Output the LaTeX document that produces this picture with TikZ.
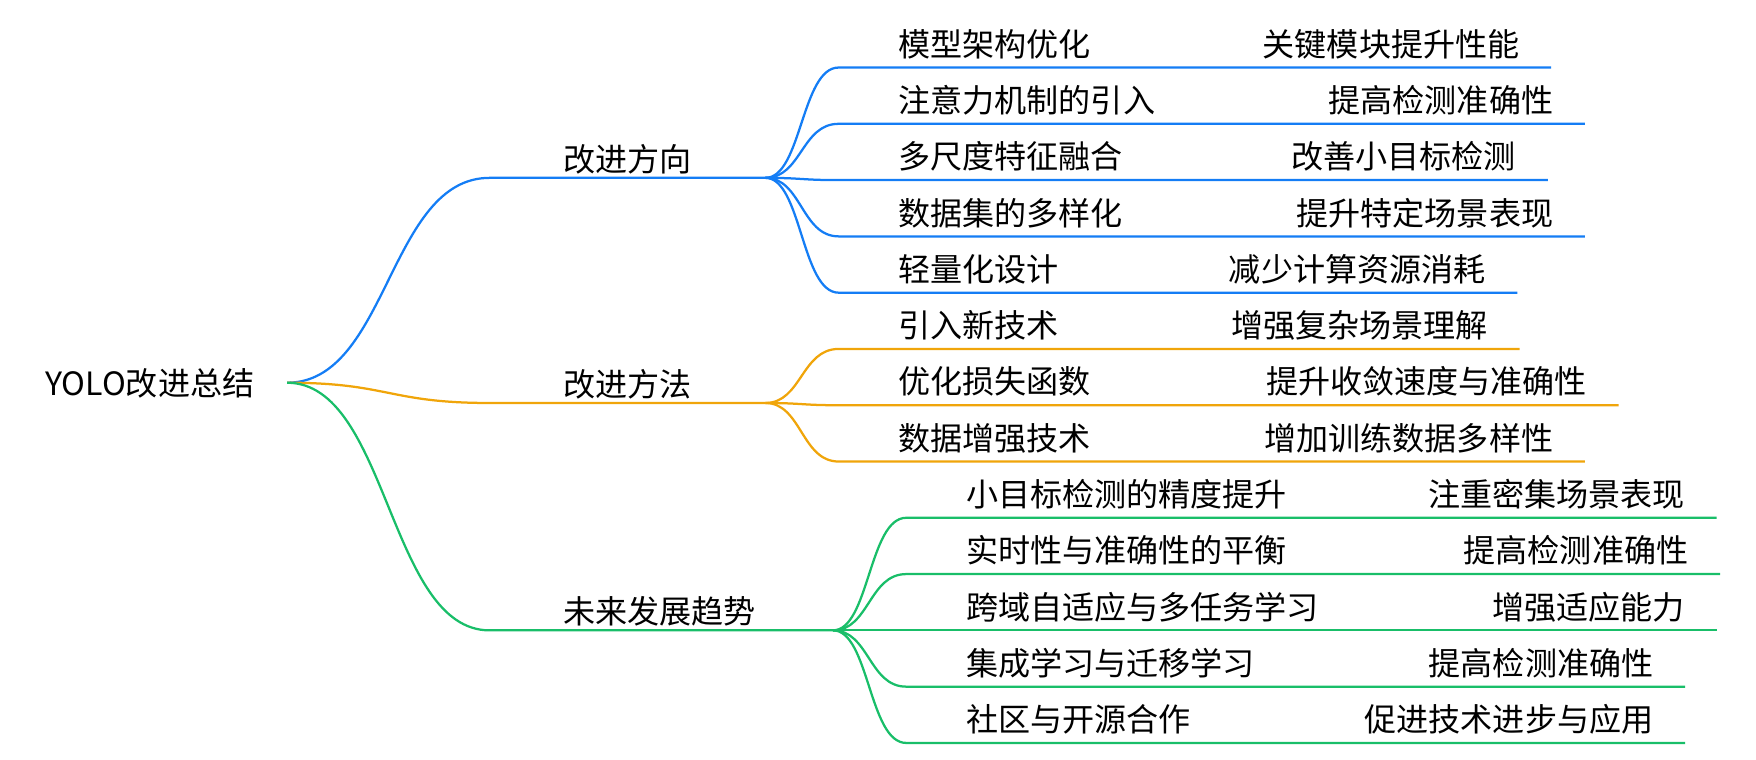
\documentclass[tikz,border=0pt]{standalone}
\usepackage{fontspec}
\setmainfont{Noto Sans CJK SC}
\usetikzlibrary{positioning}
\definecolor{dirblue}{RGB}{20,125,245}
\definecolor{methorange}{RGB}{240,165,10}
\definecolor{trendgreen}{RGB}{25,190,105}
\tikzset{
  branch/.style={line width=2pt},
  label/.style={font=\fontsize{28.5}{32}\selectfont, anchor=base west, inner sep=0pt},
  leaf/.style={font=\fontsize{28.5}{32}\selectfont, anchor=base east, inner sep=0pt}
}
\begin{document}
\begin{tikzpicture}[x=1pt,y=-1pt]
\useasboundingbox (0,0) rectangle (1560,675);

% root
\node [label] (root) at (40,351) {YOLO改进总结};
\coordinate (r) at (255,340);

% main branches
\coordinate (b1) at (435,158); \coordinate (b1e) at (680,158);
\coordinate (b2) at (435,358); \coordinate (b2e) at (680,358);
\coordinate (b3) at (435,560); \coordinate (b3e) at (740,560);
\draw [branch, dirblue] (r) .. controls (345,340) and (345,158) .. (b1) -- (b1e);
\draw [branch, methorange] (r) .. controls (345,340) and (345,358) .. (b2) -- (b2e);
\draw [branch, trendgreen] (r) .. controls (345,340) and (345,560) .. (b3) -- (b3e);
\node [label] (dir) at (500,152) {改进方向};
\node [label] (meth) at (500,352) {改进方法};
\node [label] (trend) at (500,554) {未来发展趋势};

% 改进方向
\foreach \y/\a/\b/\e in {60/模型架构优化/关键模块提升性能/1378,
                         110/注意力机制的引入/提高检测准确性/1408,
                         160/多尺度特征融合/改善小目标检测/1375,
                         210/数据集的多样化/提升特定场景表现/1408,
                         260/轻量化设计/减少计算资源消耗/1348} {
  \draw [branch, dirblue] (b1e) .. controls (712,158) and (712,\y) .. (745,\y) -- (\e,\y);
  \node [label] at (798,\y-10) {\a};
  \node [leaf] at (\e-28,\y-10) {\b};
}

% 改进方法
\foreach \y/\a/\b/\e in {310/引入新技术/增强复杂场景理解/1350,
                         360/优化损失函数/提升收敛速度与准确性/1438,
                         410/数据增强技术/增加训练数据多样性/1408} {
  \draw [branch, methorange] (b2e) .. controls (712,358) and (712,\y) .. (745,\y) -- (\e,\y);
  \node [label] at (798,\y-10) {\a};
  \node [leaf] at (\e-28,\y-10) {\b};
}

% 未来发展趋势
\foreach \y/\a/\b/\e in {460/小目标检测的精度提升/注重密集场景表现/1525,
                         510/实时性与准确性的平衡/提高检测准确性/1528,
                         560/跨域自适应与多任务学习/增强适应能力/1525,
                         610/集成学习与迁移学习/提高检测准确性/1497,
                         660/社区与开源合作/促进技术进步与应用/1497} {
  \draw [branch, trendgreen] (b3e) .. controls (772,560) and (772,\y) .. (805,\y) -- (\e,\y);
  \node [label] at (858,\y-10) {\a};
  \node [leaf] at (\e-28,\y-10) {\b};
}
\end{tikzpicture}
\end{document}
